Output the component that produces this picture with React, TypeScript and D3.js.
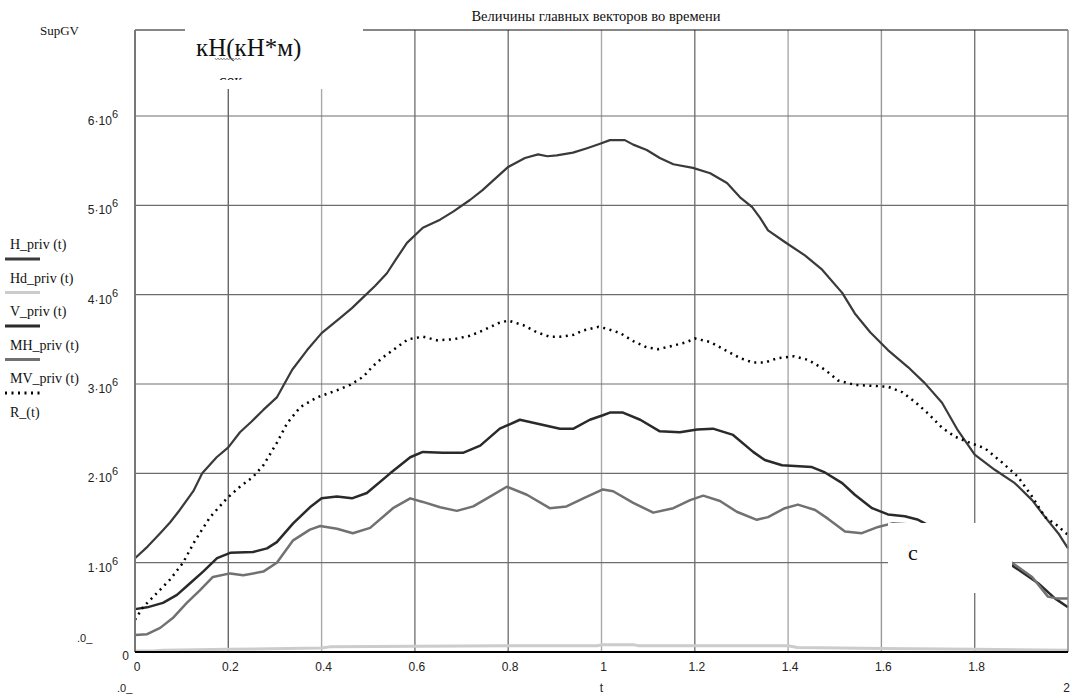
import React, { useEffect, useRef } from 'react';
import * as d3 from 'd3';

// values are in 10^6 (kN / kN*m), time in seconds
const H_priv: [number, number][] = [
  [0, 1.05], [0.027, 1.18], [0.054, 1.33], [0.075, 1.45], [0.096, 1.59], [0.125, 1.8], [0.144, 2.0],
  [0.175, 2.18], [0.2, 2.29], [0.225, 2.46], [0.25, 2.58], [0.275, 2.71], [0.304, 2.85], [0.32, 3.0],
  [0.337, 3.16], [0.369, 3.38], [0.4, 3.57], [0.44, 3.74], [0.465, 3.85], [0.489, 3.97], [0.515, 4.1],
  [0.54, 4.24], [0.56, 4.4], [0.583, 4.58], [0.617, 4.75], [0.654, 4.84], [0.682, 4.93], [0.718, 5.06],
  [0.745, 5.17], [0.768, 5.28], [0.8, 5.43], [0.836, 5.53], [0.864, 5.57], [0.884, 5.55], [0.904, 5.56],
  [0.939, 5.59], [0.969, 5.64], [0.997, 5.69], [1.018, 5.73], [1.05, 5.73], [1.068, 5.68], [1.097, 5.62],
  [1.125, 5.53], [1.154, 5.46], [1.196, 5.42], [1.233, 5.36], [1.269, 5.25], [1.297, 5.09], [1.323, 4.98],
  [1.34, 4.86], [1.357, 4.72], [1.393, 4.59], [1.436, 4.44], [1.473, 4.28], [1.516, 4.02], [1.543, 3.79],
  [1.576, 3.58], [1.614, 3.38], [1.657, 3.19], [1.693, 3.01], [1.73, 2.79], [1.764, 2.48], [1.8, 2.21],
  [1.843, 2.04], [1.886, 1.89], [1.923, 1.7], [1.951, 1.51], [1.979, 1.33], [2.0, 1.16],
];

const Hd_priv: [number, number][] = [
  [0, 0.01], [0.04, 0.01], [0.06, 0.02], [0.2, 0.03], [0.4, 0.045], [0.42, 0.06], [0.6, 0.065],
  [0.8, 0.07], [0.99, 0.07], [1.0, 0.08], [1.07, 0.08], [1.08, 0.07], [1.4, 0.07], [1.42, 0.05],
  [1.6, 0.04], [1.8, 0.03], [2.0, 0.02],
];

const V_priv: [number, number][] = [
  [0, 0.48], [0.026, 0.5], [0.06, 0.55], [0.09, 0.64], [0.118, 0.77], [0.146, 0.9], [0.176, 1.05],
  [0.204, 1.11], [0.253, 1.12], [0.283, 1.16], [0.304, 1.23], [0.339, 1.44], [0.375, 1.62], [0.4, 1.72],
  [0.433, 1.74], [0.465, 1.72], [0.497, 1.78], [0.547, 2.0], [0.59, 2.18], [0.617, 2.24], [0.66, 2.23],
  [0.703, 2.23], [0.74, 2.31], [0.782, 2.5], [0.825, 2.6], [0.868, 2.55], [0.911, 2.5], [0.94, 2.5],
  [0.975, 2.6], [1.003, 2.65], [1.018, 2.68], [1.046, 2.68], [1.083, 2.6], [1.125, 2.47], [1.168, 2.46],
  [1.205, 2.49], [1.239, 2.5], [1.282, 2.43], [1.325, 2.24], [1.35, 2.15], [1.387, 2.09], [1.451, 2.07],
  [1.479, 2.01], [1.516, 1.89], [1.543, 1.76], [1.58, 1.61], [1.614, 1.54], [1.65, 1.52], [1.679, 1.48],
  [1.7, 1.42], [1.75, 1.3], [1.8, 1.18], [1.85, 1.06], [1.88, 0.97], [1.936, 0.77], [1.972, 0.6], [2.0, 0.5],
];

const MH_priv: [number, number][] = [
  [0, 0.19], [0.026, 0.2], [0.054, 0.27], [0.081, 0.38], [0.111, 0.55], [0.139, 0.69], [0.167, 0.84],
  [0.204, 0.88], [0.232, 0.86], [0.275, 0.9], [0.304, 1.0], [0.339, 1.25], [0.375, 1.37], [0.397, 1.41],
  [0.433, 1.38], [0.467, 1.33], [0.504, 1.39], [0.553, 1.61], [0.59, 1.72], [0.617, 1.68], [0.654, 1.62],
  [0.69, 1.58], [0.725, 1.63], [0.761, 1.74], [0.797, 1.85], [0.84, 1.76], [0.889, 1.61], [0.925, 1.63],
  [0.961, 1.72], [1.003, 1.82], [1.025, 1.8], [1.068, 1.67], [1.111, 1.56], [1.154, 1.61], [1.19, 1.7],
  [1.218, 1.75], [1.254, 1.69], [1.29, 1.57], [1.333, 1.48], [1.357, 1.51], [1.393, 1.61], [1.421, 1.65],
  [1.458, 1.59], [1.486, 1.49], [1.522, 1.35], [1.558, 1.33], [1.593, 1.4], [1.623, 1.44], [1.655, 1.43],
  [1.7, 1.35], [1.75, 1.25], [1.8, 1.15], [1.85, 1.06], [1.88, 1.0], [1.923, 0.84], [1.957, 0.62],
  [1.975, 0.6], [2.0, 0.6],
];

const MV_priv: [number, number][] = [
  [0, 0.36], [0.017, 0.5], [0.047, 0.66], [0.075, 0.81], [0.103, 1.0], [0.129, 1.25], [0.161, 1.51],
  [0.197, 1.72], [0.225, 1.85], [0.253, 1.96], [0.275, 2.09], [0.304, 2.34], [0.326, 2.56], [0.354, 2.74],
  [0.39, 2.85], [0.433, 2.93], [0.461, 2.99], [0.489, 3.08], [0.51, 3.2], [0.532, 3.3], [0.561, 3.41],
  [0.585, 3.5], [0.617, 3.53], [0.647, 3.49], [0.682, 3.5], [0.718, 3.54], [0.746, 3.6], [0.778, 3.68],
  [0.8, 3.71], [0.832, 3.66], [0.861, 3.58], [0.889, 3.53], [0.911, 3.53], [0.94, 3.55], [0.961, 3.6],
  [0.993, 3.64], [1.011, 3.62], [1.04, 3.57], [1.068, 3.48], [1.097, 3.41], [1.121, 3.39], [1.154, 3.43],
  [1.183, 3.47], [1.2, 3.51], [1.233, 3.47], [1.265, 3.38], [1.297, 3.29], [1.325, 3.24], [1.35, 3.24],
  [1.378, 3.29], [1.413, 3.31], [1.443, 3.27], [1.479, 3.16], [1.507, 3.04], [1.543, 2.99], [1.58, 2.98],
  [1.614, 2.97], [1.644, 2.91], [1.672, 2.8], [1.7, 2.67], [1.73, 2.51], [1.758, 2.41], [1.786, 2.35],
  [1.822, 2.28], [1.859, 2.12], [1.893, 1.96], [1.923, 1.74], [1.951, 1.51], [1.976, 1.42], [2.0, 1.31],
];

const legendLabels = ['H_priv (t)', 'Hd_priv (t)', 'V_priv (t)', 'MH_priv (t)', 'MV_priv (t)', 'R_(t)'];
const xTickValues = [0, 0.2, 0.4, 0.6, 0.8, 1, 1.2, 1.4, 1.6, 1.8];
const yTickValues = [1, 2, 3, 4, 5, 6];

const App: React.FC = () => {
  const ref = useRef<SVGSVGElement>(null);

  useEffect(() => {
    const svg = d3.select(ref.current);
    svg.selectAll('*').remove();

    const width = 1072;
    const height = 698;
    const plotLeft = 135;
    const plotRight = 1068;
    const plotTop = 30;
    const plotBottom = 652;

    svg.attr('viewBox', [0, 0, width, height]);

    const x = d3.scaleLinear().domain([0, 2]).range([plotLeft, plotRight]);
    const y = d3.scaleLinear().domain([0, 6.963]).range([plotBottom, plotTop]);

    const sans = '"Liberation Sans", Arial, sans-serif';
    const serif = '"Liberation Serif", "Times New Roman", serif';

    // series styles, legend order
    const series = [
      { data: H_priv, color: '#3a3a3a', width: 2.2, dash: null },
      { data: Hd_priv, color: '#cccccc', width: 3, dash: null },
      { data: V_priv, color: '#2a2a2a', width: 2.5, dash: null },
      { data: MH_priv, color: '#717171', width: 2.5, dash: null },
      { data: MV_priv, color: '#000000', width: 2.5, dash: '2,4.5' },
    ];

    svg.append('rect').attr('width', width).attr('height', height).attr('fill', 'white');

    // grid
    const vGridColor = ['#666', '#aaa', '#777', '#777', '#aaa', '#777', '#aaa', '#999', '#777'];
    svg.append('g')
      .selectAll('line')
      .data(xTickValues.filter(d => d > 0))
      .join('line')
      .attr('x1', d => x(d)).attr('x2', d => x(d))
      .attr('y1', plotTop).attr('y2', plotBottom)
      .attr('stroke', (d, i) => vGridColor[i])
      .attr('stroke-width', 1.4);

    svg.append('g')
      .selectAll('line')
      .data(yTickValues)
      .join('line')
      .attr('x1', plotLeft).attr('x2', plotRight)
      .attr('y1', d => y(d)).attr('y2', d => y(d))
      .attr('stroke', '#6e6e6e')
      .attr('stroke-width', 1.2);

    // curves
    const line = d3.line<[number, number]>()
      .x(d => x(d[0]))
      .y(d => y(d[1]));

    series.forEach(s => {
      svg.append('path')
        .attr('d', line(s.data))
        .attr('fill', 'none')
        .attr('stroke', s.color)
        .attr('stroke-width', s.width)
        .attr('stroke-dasharray', s.dash)
        .attr('stroke-linejoin', 'round');
    });

    // frame
    svg.append('line').attr('x1', plotLeft).attr('x2', plotRight).attr('y1', plotTop).attr('y2', plotTop)
      .attr('stroke', '#111').attr('stroke-width', 1.2);
    svg.append('line').attr('x1', plotLeft).attr('x2', plotLeft).attr('y1', plotTop).attr('y2', plotBottom)
      .attr('stroke', '#777').attr('stroke-width', 2);
    svg.append('line').attr('x1', plotRight).attr('x2', plotRight).attr('y1', plotTop).attr('y2', plotBottom)
      .attr('stroke', '#888').attr('stroke-width', 1.5);
    svg.append('line').attr('x1', plotLeft).attr('x2', plotRight).attr('y1', plotBottom).attr('y2', plotBottom)
      .attr('stroke', '#000').attr('stroke-width', 2);

    // white boxes pasted over the plot (unit label and "c")
    svg.append('rect').attr('x', 185).attr('y', 22).attr('width', 178).attr('height', 67).attr('fill', 'white');
    svg.append('rect').attr('x', 888).attr('y', 523).attr('width', 124).attr('height', 70).attr('fill', 'white');

    svg.append('text')
      .attr('x', 196).attr('y', 56)
      .attr('font-family', serif).attr('font-size', 25)
      .attr('fill', '#111')
      .text('кН(кН*м)');

    // spell-check squiggle
    const squiggle: [number, number][] = d3.range(0, 26, 1.5).map((d, i) => [215 + d, 59 + (i % 2 ? 1 : -1)]);
    svg.append('path')
      .attr('d', d3.line()(squiggle))
      .attr('fill', 'none').attr('stroke', '#777').attr('stroke-width', 0.8);

    svg.append('clipPath').attr('id', 'secClip')
      .append('rect').attr('x', 200).attr('y', 60).attr('width', 80).attr('height', 20);
    svg.append('text')
      .attr('x', 219).attr('y', 86)
      .attr('clip-path', 'url(#secClip)')
      .attr('font-family', serif).attr('font-size', 17)
      .attr('fill', '#111')
      .text('сек');

    svg.append('text')
      .attr('x', 908).attr('y', 560)
      .attr('font-family', serif).attr('font-size', 22)
      .attr('fill', '#111')
      .text('с');

    // title
    svg.append('text')
      .attr('x', 596).attr('y', 21)
      .attr('text-anchor', 'middle')
      .attr('font-family', serif).attr('font-size', 14.5)
      .attr('fill', '#111')
      .text('Величины главных векторов во времени');

    svg.append('text')
      .attr('x', 40).attr('y', 35)
      .attr('font-family', serif).attr('font-size', 13)
      .attr('fill', '#111')
      .text('SupGV');

    // y tick labels
    const yLabels = svg.append('g')
      .attr('font-family', sans).attr('font-size', 12).attr('fill', '#222');
    yTickValues.forEach(v => {
      const t = yLabels.append('text')
        .attr('x', 118).attr('y', y(v) + 9)
        .attr('text-anchor', 'end');
      t.append('tspan').text(`${v}·10`);
      t.append('tspan').attr('dy', -7).attr('font-size', 11).text('6');
    });
    yLabels.append('text')
      .attr('x', 129).attr('y', y(0) + 8)
      .attr('text-anchor', 'end')
      .text('0');

    // x tick labels
    svg.append('g')
      .attr('font-family', sans).attr('font-size', 12).attr('fill', '#222')
      .selectAll('text')
      .data(xTickValues)
      .join('text')
      .attr('x', d => x(d) + 2)
      .attr('y', 671)
      .attr('text-anchor', 'middle')
      .text(d => d3.format('~g')(d));

    svg.append('text')
      .attr('x', x(1)).attr('y', 692)
      .attr('text-anchor', 'middle')
      .attr('font-family', sans).attr('font-size', 12).attr('fill', '#222')
      .text('t');
    svg.append('text')
      .attr('x', 1070).attr('y', 692)
      .attr('text-anchor', 'end')
      .attr('font-family', sans).attr('font-size', 12).attr('fill', '#222')
      .text('2');

    // stray range markers
    svg.append('text').attr('x', 77).attr('y', 642)
      .attr('font-family', sans).attr('font-size', 11).attr('fill', '#222').text('.0_');
    svg.append('text').attr('x', 117).attr('y', 692)
      .attr('font-family', sans).attr('font-size', 11).attr('fill', '#222').text('.0_');

    // legend
    const legend = svg.append('g').attr('font-family', serif).attr('font-size', 14).attr('fill', '#111');
    legendLabels.forEach((label, i) => {
      const yy = 244 + i * 33.5;
      legend.append('text').attr('x', 10).attr('y', yy + 5).text(label);
      const s = series[i];
      if (s) {
        legend.append('line')
          .attr('x1', 5).attr('x2', 40)
          .attr('y1', yy + 15).attr('y2', yy + 15)
          .attr('stroke', s.color)
          .attr('stroke-width', 3)
          .attr('stroke-dasharray', s.dash);
      }
    });
  }, []);

  return (
    <svg ref={ref} width={1072} height={698} style={{ position: 'absolute', left: 0, top: 0 }} />
  );
};

export default App;
